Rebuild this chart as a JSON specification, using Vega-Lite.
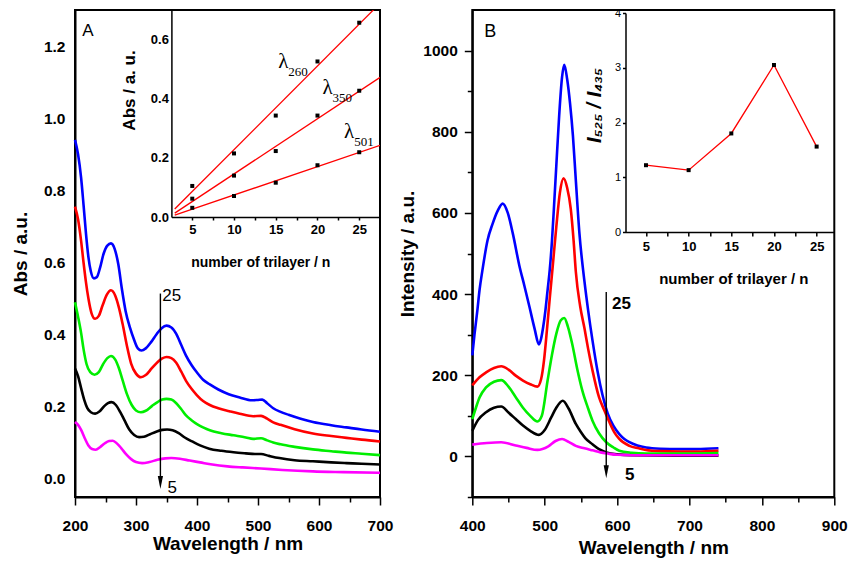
{
  "$schema": "https://vega.github.io/schema/vega-lite/v6.json",
  "padding": {"left": 10, "top": 3, "right": 5, "bottom": 5},
  "spacing": 92.3,
  "bounds": "flush",
  "config": {
    "font": "Liberation Sans",
    "view": {"stroke": "black", "strokeWidth": 2},
    "axis": {"grid": false, "domainColor": "black", "domainWidth": 2, "tickColor": "black", "tickWidth": 1.5, "labelColor": "black", "titleColor": "black", "labelFont": "Liberation Sans", "titleFont": "Liberation Sans", "labelFontWeight": "bold", "titleFontWeight": "bold", "labelFlush": false, "labelOverlap": false, "labelBound": false},
    "text": {"font": "Liberation Sans", "color": "black"}
  },
  "datasets": {
    "absA": [
      {"n":"25","wl":200,"abs":0.94},{"n":"25","wl":205,"abs":0.9},{"n":"25","wl":210,"abs":0.835},{"n":"25","wl":214,"abs":0.76},{"n":"25","wl":218,"abs":0.68},{"n":"25","wl":222,"abs":0.615},{"n":"25","wl":226,"abs":0.575},{"n":"25","wl":231,"abs":0.556},{"n":"25","wl":236,"abs":0.56},{"n":"25","wl":241,"abs":0.585},{"n":"25","wl":247,"abs":0.625},{"n":"25","wl":253,"abs":0.647},{"n":"25","wl":259,"abs":0.653},{"n":"25","wl":265,"abs":0.638},{"n":"25","wl":271,"abs":0.595},{"n":"25","wl":277,"abs":0.525},{"n":"25","wl":283,"abs":0.465},{"n":"25","wl":290,"abs":0.42},{"n":"25","wl":297,"abs":0.385},{"n":"25","wl":303,"abs":0.362},{"n":"25","wl":309,"abs":0.356},{"n":"25","wl":316,"abs":0.362},{"n":"25","wl":325,"abs":0.38},{"n":"25","wl":334,"abs":0.402},{"n":"25","wl":342,"abs":0.418},{"n":"25","wl":350,"abs":0.425},{"n":"25","wl":358,"abs":0.42},{"n":"25","wl":366,"abs":0.402},{"n":"25","wl":374,"abs":0.372},{"n":"25","wl":382,"abs":0.342},{"n":"25","wl":391,"abs":0.316},{"n":"25","wl":400,"abs":0.295},{"n":"25","wl":410,"abs":0.275},{"n":"25","wl":421,"abs":0.262},{"n":"25","wl":435,"abs":0.248},{"n":"25","wl":452,"abs":0.235},{"n":"25","wl":470,"abs":0.226},{"n":"25","wl":490,"abs":0.218},{"n":"25","wl":500,"abs":0.219},{"n":"25","wl":507,"abs":0.22},{"n":"25","wl":515,"abs":0.21},{"n":"25","wl":525,"abs":0.196},{"n":"25","wl":537,"abs":0.186},{"n":"25","wl":550,"abs":0.178},{"n":"25","wl":570,"abs":0.167},{"n":"25","wl":590,"abs":0.158},{"n":"25","wl":620,"abs":0.149},{"n":"25","wl":645,"abs":0.143},{"n":"25","wl":670,"abs":0.137},{"n":"25","wl":700,"abs":0.131},
      {"n":"20","wl":200,"abs":0.755},{"n":"20","wl":205,"abs":0.72},{"n":"20","wl":210,"abs":0.66},{"n":"20","wl":214,"abs":0.6},{"n":"20","wl":218,"abs":0.545},{"n":"20","wl":222,"abs":0.5},{"n":"20","wl":227,"abs":0.46},{"n":"20","wl":233,"abs":0.444},{"n":"20","wl":239,"abs":0.452},{"n":"20","wl":245,"abs":0.48},{"n":"20","wl":252,"abs":0.51},{"n":"20","wl":259,"abs":0.523},{"n":"20","wl":266,"abs":0.508},{"n":"20","wl":272,"abs":0.475},{"n":"20","wl":278,"abs":0.43},{"n":"20","wl":285,"abs":0.37},{"n":"20","wl":292,"abs":0.32},{"n":"20","wl":300,"abs":0.292},{"n":"20","wl":308,"abs":0.282},{"n":"20","wl":316,"abs":0.288},{"n":"20","wl":326,"abs":0.307},{"n":"20","wl":336,"abs":0.325},{"n":"20","wl":343,"abs":0.334},{"n":"20","wl":350,"abs":0.338},{"n":"20","wl":358,"abs":0.335},{"n":"20","wl":366,"abs":0.322},{"n":"20","wl":374,"abs":0.298},{"n":"20","wl":382,"abs":0.272},{"n":"20","wl":391,"abs":0.25},{"n":"20","wl":400,"abs":0.232},{"n":"20","wl":410,"abs":0.216},{"n":"20","wl":421,"abs":0.205},{"n":"20","wl":435,"abs":0.196},{"n":"20","wl":453,"abs":0.188},{"n":"20","wl":470,"abs":0.181},{"n":"20","wl":492,"abs":0.174},{"n":"20","wl":505,"abs":0.175},{"n":"20","wl":515,"abs":0.167},{"n":"20","wl":525,"abs":0.157},{"n":"20","wl":537,"abs":0.15},{"n":"20","wl":560,"abs":0.138},{"n":"20","wl":590,"abs":0.126},{"n":"20","wl":620,"abs":0.119},{"n":"20","wl":645,"abs":0.114},{"n":"20","wl":670,"abs":0.109},{"n":"20","wl":700,"abs":0.104},
      {"n":"15","wl":200,"abs":0.49},{"n":"15","wl":205,"abs":0.45},{"n":"15","wl":210,"abs":0.405},{"n":"15","wl":214,"abs":0.36},{"n":"15","wl":219,"abs":0.318},{"n":"15","wl":225,"abs":0.296},{"n":"15","wl":232,"abs":0.289},{"n":"15","wl":239,"abs":0.296},{"n":"15","wl":246,"abs":0.318},{"n":"15","wl":253,"abs":0.335},{"n":"15","wl":259,"abs":0.341},{"n":"15","wl":266,"abs":0.331},{"n":"15","wl":272,"abs":0.307},{"n":"15","wl":278,"abs":0.274},{"n":"15","wl":285,"abs":0.236},{"n":"15","wl":293,"abs":0.205},{"n":"15","wl":300,"abs":0.19},{"n":"15","wl":308,"abs":0.185},{"n":"15","wl":316,"abs":0.189},{"n":"15","wl":326,"abs":0.202},{"n":"15","wl":336,"abs":0.214},{"n":"15","wl":343,"abs":0.22},{"n":"15","wl":350,"abs":0.222},{"n":"15","wl":358,"abs":0.22},{"n":"15","wl":366,"abs":0.21},{"n":"15","wl":374,"abs":0.194},{"n":"15","wl":382,"abs":0.176},{"n":"15","wl":391,"abs":0.163},{"n":"15","wl":400,"abs":0.152},{"n":"15","wl":410,"abs":0.143},{"n":"15","wl":421,"abs":0.135},{"n":"15","wl":440,"abs":0.127},{"n":"15","wl":460,"abs":0.121},{"n":"15","wl":480,"abs":0.115},{"n":"15","wl":492,"abs":0.111},{"n":"15","wl":505,"abs":0.113},{"n":"15","wl":515,"abs":0.107},{"n":"15","wl":525,"abs":0.101},{"n":"15","wl":537,"abs":0.096},{"n":"15","wl":560,"abs":0.089},{"n":"15","wl":590,"abs":0.082},{"n":"15","wl":620,"abs":0.077},{"n":"15","wl":645,"abs":0.073},{"n":"15","wl":670,"abs":0.07},{"n":"15","wl":700,"abs":0.066},
      {"n":"10","wl":200,"abs":0.306},{"n":"10","wl":205,"abs":0.285},{"n":"10","wl":210,"abs":0.252},{"n":"10","wl":215,"abs":0.22},{"n":"10","wl":220,"abs":0.197},{"n":"10","wl":226,"abs":0.185},{"n":"10","wl":233,"abs":0.181},{"n":"10","wl":240,"abs":0.187},{"n":"10","wl":248,"abs":0.202},{"n":"10","wl":254,"abs":0.21},{"n":"10","wl":260,"abs":0.213},{"n":"10","wl":267,"abs":0.205},{"n":"10","wl":274,"abs":0.186},{"n":"10","wl":281,"abs":0.163},{"n":"10","wl":289,"abs":0.137},{"n":"10","wl":297,"abs":0.122},{"n":"10","wl":305,"abs":0.116},{"n":"10","wl":313,"abs":0.117},{"n":"10","wl":323,"abs":0.124},{"n":"10","wl":333,"abs":0.131},{"n":"10","wl":343,"abs":0.136},{"n":"10","wl":351,"abs":0.137},{"n":"10","wl":360,"abs":0.135},{"n":"10","wl":370,"abs":0.127},{"n":"10","wl":380,"abs":0.115},{"n":"10","wl":392,"abs":0.104},{"n":"10","wl":405,"abs":0.093},{"n":"10","wl":420,"abs":0.084},{"n":"10","wl":440,"abs":0.078},{"n":"10","wl":460,"abs":0.074},{"n":"10","wl":480,"abs":0.071},{"n":"10","wl":495,"abs":0.069},{"n":"10","wl":505,"abs":0.069},{"n":"10","wl":518,"abs":0.064},{"n":"10","wl":535,"abs":0.058},{"n":"10","wl":560,"abs":0.052},{"n":"10","wl":590,"abs":0.049},{"n":"10","wl":620,"abs":0.046},{"n":"10","wl":645,"abs":0.044},{"n":"10","wl":670,"abs":0.042},{"n":"10","wl":700,"abs":0.04},
      {"n":"5","wl":200,"abs":0.158},{"n":"5","wl":205,"abs":0.15},{"n":"5","wl":210,"abs":0.136},{"n":"5","wl":216,"abs":0.113},{"n":"5","wl":222,"abs":0.093},{"n":"5","wl":228,"abs":0.083},{"n":"5","wl":234,"abs":0.081},{"n":"5","wl":241,"abs":0.088},{"n":"5","wl":249,"abs":0.099},{"n":"5","wl":256,"abs":0.105},{"n":"5","wl":262,"abs":0.106},{"n":"5","wl":269,"abs":0.098},{"n":"5","wl":276,"abs":0.085},{"n":"5","wl":284,"abs":0.068},{"n":"5","wl":292,"abs":0.055},{"n":"5","wl":300,"abs":0.047},{"n":"5","wl":310,"abs":0.044},{"n":"5","wl":322,"abs":0.047},{"n":"5","wl":335,"abs":0.053},{"n":"5","wl":348,"abs":0.057},{"n":"5","wl":358,"abs":0.058},{"n":"5","wl":372,"abs":0.056},{"n":"5","wl":388,"abs":0.051},{"n":"5","wl":405,"abs":0.046},{"n":"5","wl":425,"abs":0.04},{"n":"5","wl":450,"abs":0.035},{"n":"5","wl":475,"abs":0.032},{"n":"5","wl":505,"abs":0.029},{"n":"5","wl":540,"abs":0.025},{"n":"5","wl":590,"abs":0.021},{"n":"5","wl":640,"abs":0.019},{"n":"5","wl":700,"abs":0.017}
    ],
    "flB": [
      {"n":"25","wl":400,"i":249},{"n":"25","wl":403,"i":300},{"n":"25","wl":407,"i":360},{"n":"25","wl":410,"i":410},{"n":"25","wl":414,"i":459},{"n":"25","wl":421,"i":532},{"n":"25","wl":428,"i":573},{"n":"25","wl":435,"i":605},{"n":"25","wl":442,"i":623},{"n":"25","wl":449,"i":600},{"n":"25","wl":456,"i":549},{"n":"25","wl":465,"i":470},{"n":"25","wl":472,"i":420},{"n":"25","wl":479,"i":368},{"n":"25","wl":486,"i":315},{"n":"25","wl":492,"i":276},{"n":"25","wl":495,"i":290},{"n":"25","wl":498,"i":320},{"n":"25","wl":501,"i":360},{"n":"25","wl":504,"i":410},{"n":"25","wl":507,"i":460},{"n":"25","wl":510,"i":530},{"n":"25","wl":513,"i":620},{"n":"25","wl":516,"i":715},{"n":"25","wl":520,"i":840},{"n":"25","wl":524,"i":935},{"n":"25","wl":527,"i":965},{"n":"25","wl":531,"i":930},{"n":"25","wl":535,"i":870},{"n":"25","wl":539,"i":790},{"n":"25","wl":543,"i":680},{"n":"25","wl":548,"i":549},{"n":"25","wl":555,"i":430},{"n":"25","wl":560,"i":360},{"n":"25","wl":566,"i":286},{"n":"25","wl":573,"i":210},{"n":"25","wl":580,"i":150},{"n":"25","wl":587,"i":106},{"n":"25","wl":595,"i":75},{"n":"25","wl":603,"i":55},{"n":"25","wl":610,"i":43},{"n":"25","wl":617,"i":35},{"n":"25","wl":628,"i":27},{"n":"25","wl":640,"i":22},{"n":"25","wl":660,"i":19},{"n":"25","wl":686,"i":18},{"n":"25","wl":710,"i":18},{"n":"25","wl":740,"i":20},
      {"n":"20","wl":400,"i":175},{"n":"20","wl":410,"i":195},{"n":"20","wl":419,"i":207},{"n":"20","wl":430,"i":218},{"n":"20","wl":440,"i":222},{"n":"20","wl":450,"i":214},{"n":"20","wl":460,"i":199},{"n":"20","wl":470,"i":187},{"n":"20","wl":480,"i":178},{"n":"20","wl":490,"i":172},{"n":"20","wl":495,"i":190},{"n":"20","wl":499,"i":236},{"n":"20","wl":503,"i":310},{"n":"20","wl":507,"i":390},{"n":"20","wl":511,"i":467},{"n":"20","wl":516,"i":565},{"n":"20","wl":521,"i":650},{"n":"20","wl":526,"i":685},{"n":"20","wl":531,"i":662},{"n":"20","wl":536,"i":610},{"n":"20","wl":540,"i":530},{"n":"20","wl":543,"i":455},{"n":"20","wl":549,"i":370},{"n":"20","wl":555,"i":315},{"n":"20","wl":560,"i":265},{"n":"20","wl":566,"i":212},{"n":"20","wl":575,"i":146},{"n":"20","wl":582,"i":115},{"n":"20","wl":589,"i":86},{"n":"20","wl":596,"i":60},{"n":"20","wl":603,"i":43},{"n":"20","wl":617,"i":26},{"n":"20","wl":630,"i":20},{"n":"20","wl":640,"i":16},{"n":"20","wl":660,"i":13},{"n":"20","wl":686,"i":12},{"n":"20","wl":710,"i":12},{"n":"20","wl":740,"i":14},
      {"n":"15","wl":400,"i":92},{"n":"15","wl":405,"i":120},{"n":"15","wl":410,"i":145},{"n":"15","wl":419,"i":170},{"n":"15","wl":430,"i":184},{"n":"15","wl":440,"i":188},{"n":"15","wl":450,"i":172},{"n":"15","wl":460,"i":146},{"n":"15","wl":470,"i":120},{"n":"15","wl":480,"i":100},{"n":"15","wl":490,"i":86},{"n":"15","wl":496,"i":100},{"n":"15","wl":504,"i":187},{"n":"15","wl":510,"i":250},{"n":"15","wl":516,"i":302},{"n":"15","wl":522,"i":335},{"n":"15","wl":527,"i":341},{"n":"15","wl":532,"i":320},{"n":"15","wl":538,"i":277},{"n":"15","wl":545,"i":215},{"n":"15","wl":552,"i":162},{"n":"15","wl":560,"i":118},{"n":"15","wl":566,"i":88},{"n":"15","wl":575,"i":57},{"n":"15","wl":585,"i":35},{"n":"15","wl":595,"i":22},{"n":"15","wl":603,"i":14},{"n":"15","wl":620,"i":9},{"n":"15","wl":640,"i":7},{"n":"15","wl":700,"i":7},{"n":"15","wl":740,"i":8},
      {"n":"10","wl":400,"i":63},{"n":"10","wl":408,"i":90},{"n":"10","wl":419,"i":109},{"n":"10","wl":430,"i":120},{"n":"10","wl":440,"i":123},{"n":"10","wl":450,"i":108},{"n":"10","wl":460,"i":92},{"n":"10","wl":470,"i":76},{"n":"10","wl":480,"i":63},{"n":"10","wl":492,"i":53},{"n":"10","wl":500,"i":65},{"n":"10","wl":509,"i":96},{"n":"10","wl":516,"i":120},{"n":"10","wl":525,"i":137},{"n":"10","wl":533,"i":118},{"n":"10","wl":543,"i":80},{"n":"10","wl":550,"i":60},{"n":"10","wl":556,"i":45},{"n":"10","wl":566,"i":30},{"n":"10","wl":575,"i":18},{"n":"10","wl":585,"i":10},{"n":"10","wl":600,"i":5},{"n":"10","wl":620,"i":3},{"n":"10","wl":700,"i":2},{"n":"10","wl":740,"i":2},
      {"n":"5","wl":400,"i":29},{"n":"5","wl":420,"i":33},{"n":"5","wl":440,"i":35},{"n":"5","wl":460,"i":27},{"n":"5","wl":475,"i":21},{"n":"5","wl":490,"i":16},{"n":"5","wl":505,"i":25},{"n":"5","wl":515,"i":38},{"n":"5","wl":524,"i":43},{"n":"5","wl":533,"i":36},{"n":"5","wl":543,"i":26},{"n":"5","wl":555,"i":20},{"n":"5","wl":566,"i":15},{"n":"5","wl":577,"i":10},{"n":"5","wl":587,"i":7},{"n":"5","wl":600,"i":4},{"n":"5","wl":620,"i":3},{"n":"5","wl":740,"i":3}
    ],
    "arrowA": [{"wl":340,"abs":0.514,"abs2":-0.005}],
    "headA": [{"wl":340,"abs":-0.0097}],
    "textA": [{"wl":343,"abs":0.508,"label":"25"},{"wl":351.6,"abs":-0.024,"label":"5"},{"wl":211.7,"abs":1.242,"label":"A"}],
    "arrowB": [{"wl":585,"i":405,"i2":-30}],
    "headB": [{"wl":585,"i":-38}],
    "textB": [{"wl":593,"i":376,"label":"25"},{"wl":611,"i":-46,"label":"5"}],
    "letterB": [{"wl":416.6,"i":1047,"label":"B"}],
    "insetA": [
      {"band":"260","trilayer":5,"value":0.105},{"band":"260","trilayer":10,"value":0.215},{"band":"260","trilayer":15,"value":0.343},{"band":"260","trilayer":20,"value":0.526},{"band":"260","trilayer":25,"value":0.657},
      {"band":"350","trilayer":5,"value":0.062},{"band":"350","trilayer":10,"value":0.14},{"band":"350","trilayer":15,"value":0.223},{"band":"350","trilayer":20,"value":0.343},{"band":"350","trilayer":25,"value":0.427},
      {"band":"501","trilayer":5,"value":0.031},{"band":"501","trilayer":10,"value":0.071},{"band":"501","trilayer":15,"value":0.116},{"band":"501","trilayer":20,"value":0.175},{"band":"501","trilayer":25,"value":0.219}
    ],
    "bandLabels": [
      {"band":"260","trilayer":15.9,"value":0.525},
      {"band":"350","trilayer":21.2,"value":0.436},
      {"band":"501","trilayer":23.8,"value":0.289}
    ],
    "insetB": [
      {"trilayer":5,"ratio":1.22},{"trilayer":10,"ratio":1.13},{"trilayer":15,"ratio":1.8},{"trilayer":20,"ratio":3.05},{"trilayer":25,"ratio":1.56}
    ]
  },
  "hconcat": [
    {
      "width": 305,
      "height": 487,
      "layer": [
        {
          "encoding": {
            "x": {"field": "wl", "type": "quantitative", "scale": {"domain": [200, 700], "nice": false, "zero": false},
              "axis": {"orient": "bottom", "title": "Wavelength / nm", "values": [200,250,300,350,400,450,500,550,600,650,700], "labelExpr": "datum.value % 100 === 0 ? datum.label : ''", "tickSize": {"condition": {"test": "datum.value % 100 === 0", "value": 8}, "value": 5}, "labelPadding": 13, "labelFontSize": 15.5, "titleFontSize": 19, "titlePadding": 1}},
            "y": {"field": "abs", "type": "quantitative", "scale": {"domain": [-0.05, 1.3], "nice": false, "zero": false},
              "axis": {"orient": "left", "title": "Abs / a.u.", "values": [0,0.2,0.4,0.6,0.8,1,1.2], "format": ".1f", "tickSize": 0, "labelPadding": 10, "labelFontSize": 15.5, "titleFontSize": 19, "titlePadding": 13}}
          },
          "layer": [
            {
              "data": {"name": "absA"},
              "mark": {"type": "line", "strokeWidth": 2.6, "interpolate": "monotone"},
              "encoding": {
                "color": {"field": "n", "type": "nominal", "scale": {"domain": ["25","20","15","10","5"], "range": ["#0000ff","#ff0000","#00ee00","#000000","#ff00ff"]}, "legend": null}
              }
            },
            {
              "data": {"name": "arrowA"},
              "mark": {"type": "rule", "color": "black", "strokeWidth": 1.4},
              "encoding": {"y2": {"field": "abs2"}}
            },
            {
              "data": {"name": "headA"},
              "mark": {"type": "point", "shape": "M-0.4,-1L0.4,-1L0,1Z", "size": 169, "filled": true, "color": "black", "opacity": 1},
              "encoding": {"y": {"field": "abs", "type": "quantitative"}}
            },
            {
              "data": {"name": "textA"},
              "mark": {"type": "text", "fontSize": 17, "align": "left", "baseline": "middle"},
              "encoding": {"text": {"field": "label"}}
            }
          ]
        },
        {
          "encoding": {
            "x": {"field": "trilayer", "type": "quantitative", "scale": {"domain": [2.5, 27.5], "range": [96.4, 305.1], "nice": false, "zero": false},
              "axis": {"orient": "bottom", "offset": -280, "title": "number of trilayer  / n", "values": [5,7.5,10,12.5,15,17.5,20,22.5,25], "labelExpr": "datum.value % 5 === 0 ? datum.label : ''", "tickSize": 3, "labelPadding": 3, "labelFontSize": 13, "titleFontSize": 14, "titleX": 185.3, "titleY": 45, "titleBaseline": "middle", "domainWidth": 1.5}},
            "y": {"field": "value", "type": "quantitative", "scale": {"domain": [0, 0.7], "range": [207, 0], "nice": false, "zero": false},
              "axis": {"orient": "left", "offset": -96.4, "title": "Abs / a. u.", "values": [0,0.1,0.2,0.3,0.4,0.5,0.6,0.7], "labelExpr": "round(datum.value*10) % 2 === 0 && datum.value < 0.65 ? format(datum.value, '.1f') : ''", "tickSize": 0, "labelPadding": 3, "labelFontSize": 13, "titleFontSize": 17, "titleX": -42, "titleY": 80, "titleBaseline": "middle", "domainWidth": 1.5}}
          },
          "layer": [
            {
              "data": {"name": "insetA"},
              "transform": [{"regression": "value", "on": "trilayer", "groupby": ["band"], "extent": [2.9, 27.5]}],
              "mark": {"type": "line", "color": "#ff0000", "strokeWidth": 1.3, "clip": true},
              "encoding": {"detail": {"field": "band", "type": "nominal"}}
            },
            {
              "data": {"name": "insetA"},
              "mark": {"type": "point", "shape": "square", "filled": true, "color": "black", "size": 16, "opacity": 1}
            },
            {
              "data": {"name": "bandLabels"},
              "mark": {"type": "text", "text": "λ", "font": "Liberation Serif", "fontSize": 21, "align": "center", "baseline": "middle"}
            },
            {
              "data": {"name": "bandLabels"},
              "mark": {"type": "text", "font": "Liberation Serif", "fontSize": 13, "align": "left", "baseline": "middle", "dx": 5, "dy": 10},
              "encoding": {"text": {"field": "band"}}
            }
          ]
        }
      ],
      "resolve": {"scale": {"x": "independent", "y": "independent"}}
    },
    {
      "width": 362,
      "height": 487,
      "layer": [
        {
          "encoding": {
            "x": {"field": "wl", "type": "quantitative", "scale": {"domain": [400, 900], "nice": false, "zero": false},
              "axis": {"orient": "bottom", "title": "Wavelength / nm", "values": [400,450,500,550,600,650,700,750,800,850,900], "labelExpr": "datum.value % 100 === 0 ? datum.label : ''", "tickSize": {"condition": {"test": "datum.value % 100 === 0", "value": 8}, "value": 5}, "labelPadding": 13, "labelFontSize": 15.5, "titleFontSize": 19, "titlePadding": 5}},
            "y": {"field": "i", "type": "quantitative", "scale": {"domain": [-100, 1100], "nice": false, "zero": false},
              "axis": {"orient": "left", "title": "Intensity / a.u.", "values": [-100,0,100,200,300,400,500,600,700,800,900,1000], "format": "d", "labelExpr": "datum.value % 200 === 0 && datum.value >= 0 ? datum.label : ''", "tickSize": {"condition": {"test": "datum.value % 200 === 0", "value": 8}, "value": 5}, "labelPadding": 7, "labelFontSize": 15.5, "titleFontSize": 19, "titlePadding": 5}}
          },
          "layer": [
            {
              "data": {"name": "flB"},
              "mark": {"type": "line", "strokeWidth": 2.6, "interpolate": "monotone"},
              "encoding": {
                "color": {"field": "n", "type": "nominal", "scale": {"domain": ["25","20","15","10","5"], "range": ["#0000ff","#ff0000","#00ee00","#000000","#ff00ff"]}, "legend": null}
              }
            },
            {
              "data": {"name": "arrowB"},
              "mark": {"type": "rule", "color": "black", "strokeWidth": 1.4},
              "encoding": {"y2": {"field": "i2"}}
            },
            {
              "data": {"name": "headB"},
              "mark": {"type": "point", "shape": "M-0.4,-1L0.4,-1L0,1Z", "size": 169, "filled": true, "color": "black", "opacity": 1}
            },
            {
              "data": {"name": "textB"},
              "mark": {"type": "text", "fontSize": 17, "fontWeight": "bold", "align": "left", "baseline": "middle"},
              "encoding": {"text": {"field": "label"}}
            },
            {
              "data": {"name": "letterB"},
              "mark": {"type": "text", "fontSize": 18, "align": "left", "baseline": "middle"},
              "encoding": {"text": {"field": "label"}}
            }
          ]
        },
        {
          "data": {"name": "insetB"},
          "encoding": {
            "x": {"field": "trilayer", "type": "quantitative", "scale": {"domain": [2.6, 27.0], "range": [153.2, 361.4], "nice": false, "zero": false},
              "axis": {"orient": "bottom", "offset": -265, "title": "number of trilayer  / n", "values": [5,7.5,10,12.5,15,17.5,20,22.5,25], "labelExpr": "datum.value % 5 === 0 ? datum.label : ''", "tickSize": 4, "labelPadding": 4, "labelFontSize": 13, "titleFontSize": 15, "titleX": 261, "titleY": 46, "titleBaseline": "middle", "domainWidth": 1.5}},
            "y": {"field": "ratio", "type": "quantitative", "scale": {"domain": [0, 4], "range": [222, 3], "nice": false, "zero": false},
              "axis": {"orient": "left", "offset": -153.2, "title": "I₅₂₅ / I₄₃₅", "titleFontStyle": "italic", "values": [0,0.5,1,1.5,2,2.5,3,3.5,4], "format": "d", "labelExpr": "datum.value % 1 === 0 ? datum.label : ''", "tickSize": 3, "labelPadding": 2, "labelFontSize": 11, "labelFontWeight": "normal", "titleFontSize": 20, "titleX": -31, "titleY": 95, "titleBaseline": "middle", "domainWidth": 1.5}}
          },
          "layer": [
            {"mark": {"type": "line", "color": "#ff0000", "strokeWidth": 1.3}},
            {"mark": {"type": "point", "shape": "square", "filled": true, "color": "black", "size": 16, "opacity": 1}}
          ]
        }
      ],
      "resolve": {"scale": {"x": "independent", "y": "independent"}}
    }
  ]
}
